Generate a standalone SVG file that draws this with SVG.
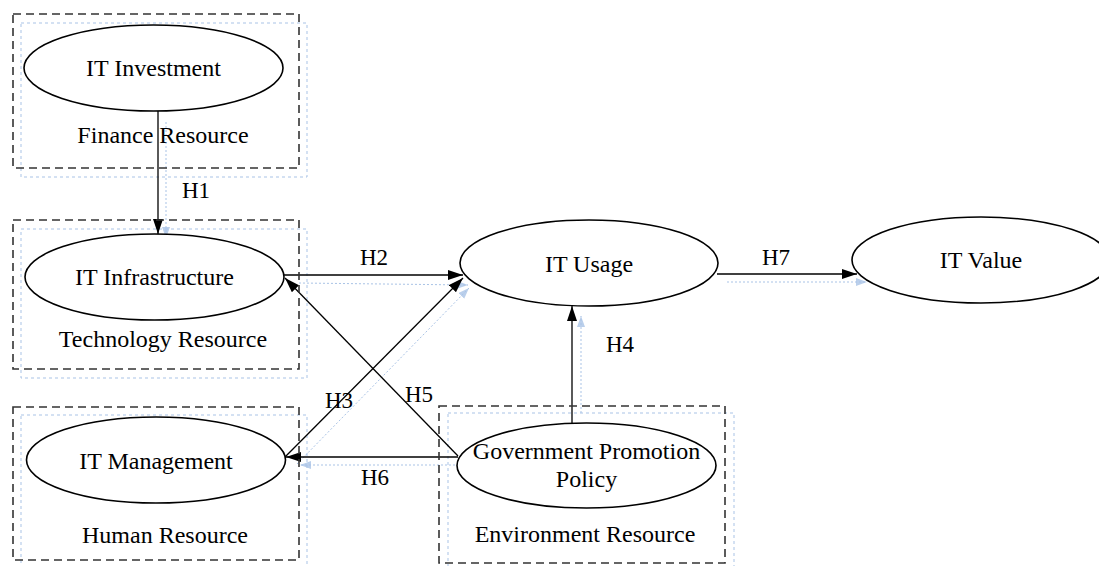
<svg xmlns="http://www.w3.org/2000/svg" width="1099" height="566" viewBox="0 0 1099 566">
  <style>
    .group-box { fill: none; stroke: #333333; stroke-width: 1.6; stroke-dasharray: 8 5; }
    .ghost-box { fill: none; stroke: #a9c3e6; stroke-width: 1; stroke-dasharray: 3 3; }
    .node { fill: #ffffff; stroke: #000000; stroke-width: 1.6; }
    .label { font-family: "Liberation Serif", "Times New Roman", serif; font-size: 24px; fill: #000000; text-anchor: middle; }
    .hyp { font-family: "Liberation Serif", "Times New Roman", serif; font-size: 23px; fill: #000000; text-anchor: middle; }
    .edge { stroke: #000000; stroke-width: 1.3; fill: none; marker-end: url(#arrow); }
    .ghost-edge { stroke: #a9c3e6; stroke-width: 1; stroke-dasharray: 2 2; fill: none; marker-end: url(#ghost-arrow); }
  </style>
  <defs>
    <marker id="arrow" markerUnits="userSpaceOnUse" markerWidth="16" markerHeight="11" refX="15" refY="5" orient="auto">
      <path d="M0,0 L15,5 L0,10 z" fill="#000000"/>
    </marker>
    <marker id="ghost-arrow" markerUnits="userSpaceOnUse" markerWidth="12" markerHeight="9" refX="11" refY="4" orient="auto">
      <path d="M0,0 L11,4 L0,8 z" fill="#a9c3e6" opacity="0.8"/>
    </marker>
  </defs>

  <rect width="1099" height="566" fill="#ffffff"/>

  <!-- faint duplicate outlines behind the resource groups -->
  <g id="ghost-outlines">
    <rect class="ghost-box" x="21" y="23" width="286" height="154"/>
    <rect class="ghost-box" x="21" y="229" width="286" height="149"/>
    <rect class="ghost-box" x="21" y="415" width="286" height="160"/>
    <rect class="ghost-box" x="448" y="413" width="286" height="160"/>
  </g>

  <!-- connectors -->
  <g id="connectors">
    <line class="ghost-edge" x1="166" y1="122" x2="166" y2="238"/>
    <line class="ghost-edge" x1="299" y1="283" x2="468" y2="285"/>
    <line class="ghost-edge" x1="297" y1="464" x2="469" y2="288"/>
    <line class="ghost-edge" x1="581" y1="413" x2="581" y2="316"/>
    <line class="ghost-edge" x1="467" y1="465" x2="300" y2="465"/>
    <line class="ghost-edge" x1="727" y1="282" x2="867" y2="282"/>

    <line class="edge" x1="158" y1="111" x2="158" y2="234"/>
    <line class="edge" x1="284" y1="275" x2="463" y2="275"/>
    <line class="edge" x1="285" y1="457" x2="463" y2="278"/>
    <line class="edge" x1="572" y1="423" x2="572" y2="306"/>
    <line class="edge" x1="458" y1="456" x2="285" y2="278"/>
    <line class="edge" x1="458" y1="457" x2="286" y2="457"/>
    <line class="edge" x1="717" y1="274" x2="857" y2="274"/>

    <text class="hyp" x="196" y="198">H1</text>
    <text class="hyp" x="374" y="265">H2</text>
    <text class="hyp" x="339" y="408">H3</text>
    <text class="hyp" x="620" y="352">H4</text>
    <text class="hyp" x="419" y="402">H5</text>
    <text class="hyp" x="375" y="485">H6</text>
    <text class="hyp" x="776" y="265">H7</text>
  </g>

  <g id="finance-resource">
    <rect class="group-box" x="13" y="14" width="286" height="154"/>
    <ellipse class="node" cx="153.5" cy="68" rx="129.5" ry="43"/>
    <text class="label" x="153.5" y="76">IT Investment</text>
    <text class="label" x="163" y="143">Finance Resource</text>
  </g>

  <g id="technology-resource">
    <rect class="group-box" x="13" y="220" width="286" height="149"/>
    <ellipse class="node" cx="154.5" cy="277" rx="129.5" ry="43"/>
    <text class="label" x="154.5" y="285">IT Infrastructure</text>
    <text class="label" x="163" y="347">Technology Resource</text>
  </g>

  <g id="human-resource">
    <rect class="group-box" x="13" y="407" width="286" height="153"/>
    <ellipse class="node" cx="156" cy="460" rx="129.5" ry="43"/>
    <text class="label" x="156" y="469">IT Management</text>
    <text class="label" x="165" y="543">Human Resource</text>
  </g>

  <g id="environment-resource">
    <rect class="group-box" x="439" y="406" width="286" height="157"/>
    <ellipse class="node" cx="586.5" cy="465.5" rx="129.5" ry="42.5"/>
    <text class="label" x="586.5" y="459">Government Promotion</text>
    <text class="label" x="586.5" y="487">Policy</text>
    <text class="label" x="585" y="542">Environment Resource</text>
  </g>

  <g id="it-usage">
    <ellipse class="node" cx="589" cy="263" rx="129" ry="43"/>
    <text class="label" x="589" y="272">IT Usage</text>
  </g>

  <g id="it-value">
    <ellipse class="node" cx="981" cy="260" rx="129" ry="43"/>
    <text class="label" x="981" y="268">IT Value</text>
  </g>
</svg>
